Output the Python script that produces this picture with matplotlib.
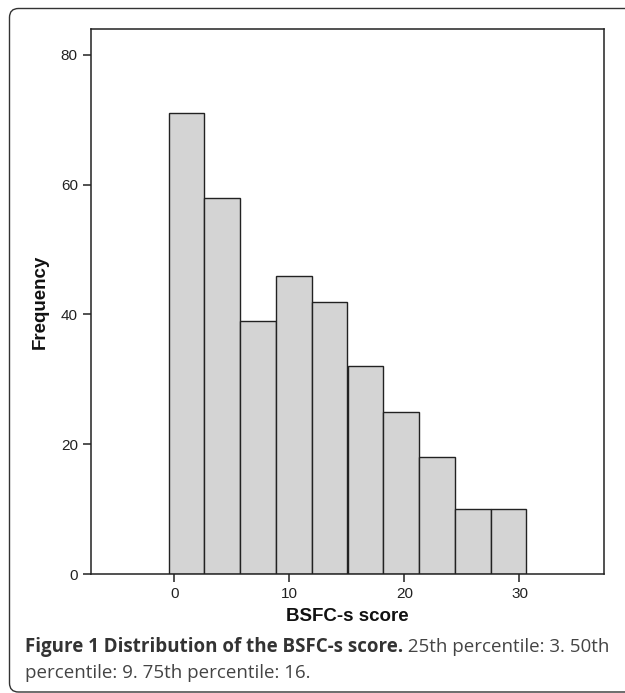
import numpy as np
import matplotlib
matplotlib.use("Agg")
import matplotlib.pyplot as plt
from matplotlib.path import Path
from matplotlib.patches import PathPatch

# histogram data
counts = [71, 58, 39, 46, 42, 32, 25, 18, 10, 10]
bin_start = -0.5
bin_width = 3.11
xticks = [0, 10, 20, 30]
yticks = [0, 20, 40, 60, 80]

caption_bold = "Figure 1 Distribution of the BSFC-s score."
caption_rest1 = " 25th percentile: 3. 50th"
caption_rest2 = "percentile: 9. 75th percentile: 16."

W, H = 625, 693
fig = plt.figure(figsize=(W / 100, H / 100), dpi=100)

# rounded outer frame in pixel units, only left side visible, runs off right
L, T, B, r = 9.5, H - 8.5, H - 692, 9
verts = [(W + 20, B), (L + r, B), (L, B), (L, B + r),
         (L, T - r), (L, T), (L + r, T), (W + 20, T)]
codes = [Path.MOVETO, Path.LINETO, Path.CURVE3, Path.CURVE3,
         Path.LINETO, Path.CURVE3, Path.CURVE3, Path.LINETO]
frame = PathPatch(Path(verts, codes), transform=None, fill=False,
                  edgecolor="#333333", linewidth=1.0)
fig.patches.append(frame)

ax = fig.add_axes([91 / W, (H - 574) / H, 513 / W, 545 / H])

edges = bin_start + bin_width * np.arange(len(counts))
ax.bar(edges, counts, width=bin_width, align="edge",
       color="#d4d4d4", edgecolor="#222222", linewidth=1.0)

ax.set_xlim(-7.25, 37.35)
ax.set_ylim(0, 84)
ax.set_xticks(xticks)
ax.set_yticks(yticks)
for s in ax.spines.values():
    s.set_linewidth(1.1)
    s.set_color("#222222")
ax.tick_params(direction="out", length=6, width=1.1, color="#222222",
               labelsize=11, labelcolor="#222222", pad=3.5)
for lab in ax.get_xticklabels() + ax.get_yticklabels():
    lab.set_family("Liberation Sans")

ax.set_xlabel("BSFC-s score", family="Liberation Sans", fontweight="bold",
              fontsize=13.5, color="#111111", labelpad=5)
ax.set_ylabel("Frequency", family="Liberation Sans", fontweight="bold",
              fontsize=13.5, color="#111111", labelpad=9)

# caption with a bold lead-in
cx = 25 / W
fs = 13.5
t1 = fig.text(cx, 1 - 647 / H, caption_bold, fontsize=fs, fontweight="bold",
              family="Open Sans", color="#333333", va="center")
fig.canvas.draw()
bb = t1.get_window_extent(renderer=fig.canvas.get_renderer())
fig.text(bb.x1 / W, 1 - 647 / H, caption_rest1, fontsize=fs,
         family="Open Sans", color="#444444", va="center")
fig.text(cx, 1 - 673 / H, caption_rest2, fontsize=fs,
         family="Open Sans", color="#444444", va="center")

fig.savefig("out.png", dpi=100)
